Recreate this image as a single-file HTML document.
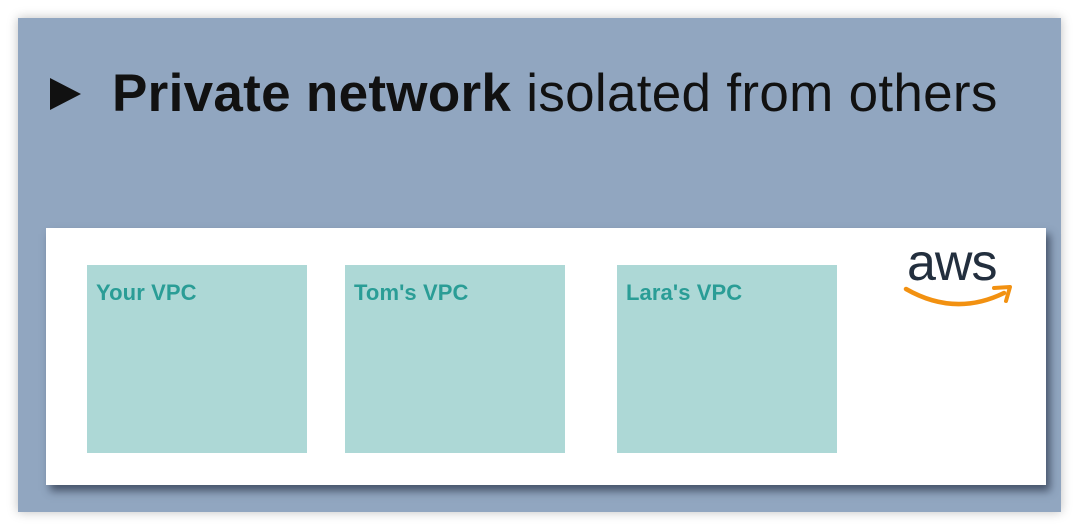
<!DOCTYPE html>
<html><head><style>
body{margin:0;width:1079px;height:530px;background:#fff;position:relative;overflow:hidden;font-family:"Liberation Sans",sans-serif}
#bg{position:absolute;left:18px;top:18px;width:1043px;height:494px;background:#91a6c0;box-shadow:0 0 10px rgba(0,0,0,0.25)}
#tri{position:absolute;left:50px;top:78px;width:0;height:0;border-top:16px solid transparent;border-bottom:16px solid transparent;border-left:31px solid #111}
#title{position:absolute;left:112px;top:64px;font-size:53px;line-height:60px;color:#111;white-space:nowrap;letter-spacing:0.3px}
#panel{position:absolute;left:46px;top:228px;width:1000px;height:257px;background:#fff;box-shadow:4px 6px 8px rgba(40,50,70,0.7)}
.vpc{position:absolute;top:265px;width:220px;height:188px;background:#add8d6}
.vpc span{position:absolute;left:9px;top:15px;font-size:22px;font-weight:bold;color:#2a9d96;letter-spacing:0.1px}
#aws{position:absolute;left:907px;top:233px;font-size:52px;line-height:60px;color:#232f3e;letter-spacing:-1px}
</style></head><body>
<div id="bg"></div>
<div id="tri"></div>
<div id="title"><b>Private network</b> isolated from others</div>
<div id="panel"></div>
<div class="vpc" style="left:87px"><span>Your VPC</span></div>
<div class="vpc" style="left:345px"><span>Tom's VPC</span></div>
<div class="vpc" style="left:617px"><span>Lara's VPC</span></div>
<div id="aws">aws</div>
<svg style="position:absolute;left:900px;top:283px" width="120" height="30">
<path d="M6 6 Q55 34 104 10" stroke="#f29111" stroke-width="4.5" fill="none" stroke-linecap="round"/>
<path d="M94 5 L110 4 L106 18" stroke="#f29111" stroke-width="4" fill="none" stroke-linecap="round" stroke-linejoin="round"/>
</svg>
</body></html>
